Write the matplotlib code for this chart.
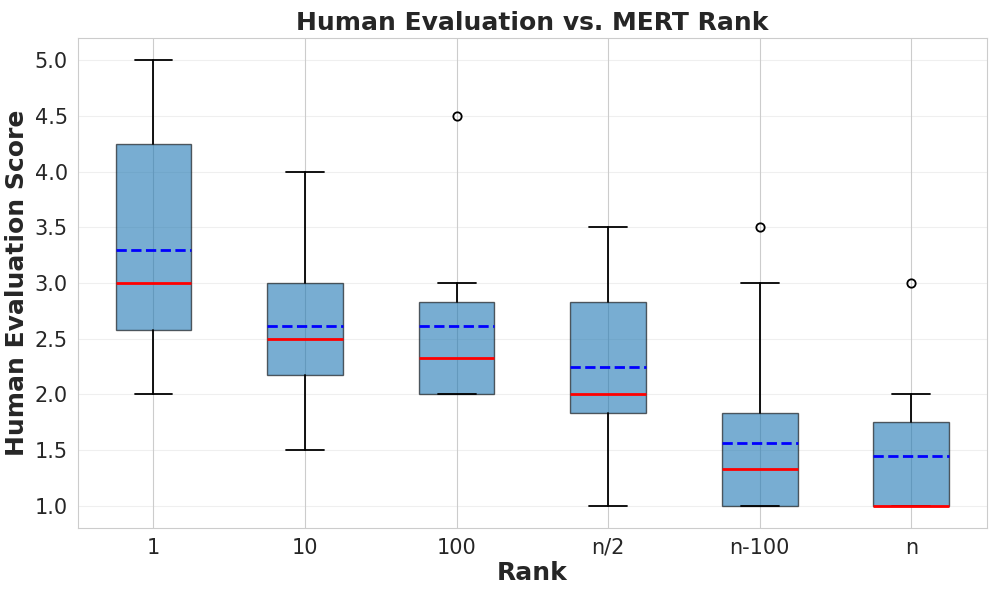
import matplotlib
matplotlib.use('Agg')
import matplotlib.pyplot as plt
import seaborn as sns

sns.set_style('whitegrid')
plt.rcParams['font.family'] = ['DejaVu Sans']

# Box statistics
ranks = ['1', '10', '100', 'n/2', 'n-100', 'n']
whis_lo = [2.0, 1.5, 2.0, 1.0, 1.0, 1.0]
q1 = [2.58, 2.17, 2.0, 1.83, 1.0, 1.0]
medians = [3.0, 2.5, 2.33, 2.0, 1.33, 1.0]
means = [3.3, 2.61, 2.61, 2.25, 1.56, 1.45]
q3 = [4.25, 3.0, 2.83, 2.83, 1.83, 1.75]
whis_hi = [5.0, 4.0, 3.0, 3.5, 3.0, 2.0]
fliers = [[], [], [4.5], [], [3.5], [3.0]]

stats = []
for i in range(len(ranks)):
    stats.append({'label': ranks[i], 'whislo': whis_lo[i], 'q1': q1[i],
                  'med': medians[i], 'mean': means[i], 'q3': q3[i],
                  'whishi': whis_hi[i], 'fliers': fliers[i]})

fig, ax = plt.subplots(figsize=(9.96, 5.94), dpi=100)
fig.subplots_adjust(left=0.078, right=0.991, top=0.936, bottom=0.111)

bp = ax.bxp(stats, widths=0.5, patch_artist=True, showmeans=True, meanline=True,
            medianprops=dict(color='red', linewidth=2),
            meanprops=dict(color='blue', linestyle='--', linewidth=2),
            whiskerprops=dict(color='black', linewidth=1.3),
            capprops=dict(color='black', linewidth=1.3),
            flierprops=dict(marker='o', markerfacecolor='none',
                            markeredgecolor='black', markersize=6,
                            markeredgewidth=1.3))
for box in bp['boxes']:
    box.set_facecolor('#1f77b4')
    box.set_edgecolor('black')
    box.set_alpha(0.6)
    box.set_linewidth(1.0)

ax.set_ylim(0.8, 5.2)
ax.set_yticks([1.0, 1.5, 2.0, 2.5, 3.0, 3.5, 4.0, 4.5, 5.0])
ax.grid(axis='y', alpha=0.3)

ax.set_title('Human Evaluation vs. MERT Rank', fontsize=18, fontweight='bold')
ax.set_xlabel('Rank', fontsize=18, fontweight='bold', labelpad=2)
ax.set_ylabel('Human Evaluation Score', fontsize=18, fontweight='bold')
ax.tick_params(axis='both', labelsize=15)

plt.savefig('out.png', dpi=100)
